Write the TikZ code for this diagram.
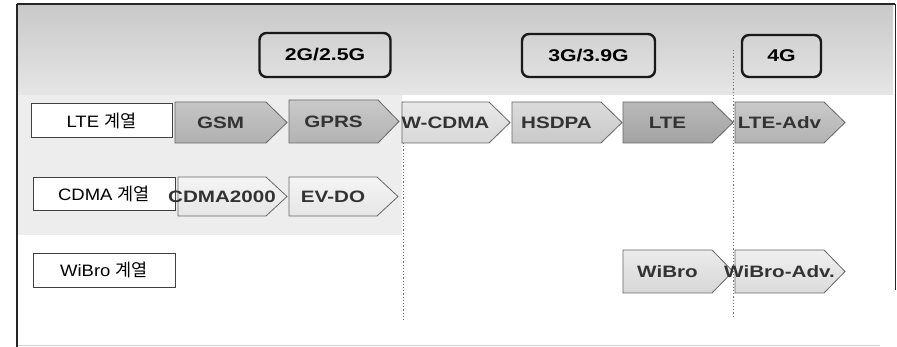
\documentclass[tikz,border=0pt]{standalone}
\usepackage{fontspec}
\setmainfont{Liberation Sans}
\newfontfamily\wide[FakeStretch=1.25]{Liberation Sans}
\newfontfamily\labfont[FakeStretch=1.12]{Liberation Sans}
\newfontfamily\kr{Noto Sans CJK KR}
\tikzset{
 lab/.style={draw=black!75, line width=0.8pt, fill=white, minimum width=141pt, minimum height=34pt, inner sep=0pt, font=\labfont\fontsize{16.5}{18}\selectfont},
 hdr/.style={draw=black!90, line width=2.4pt, rounded corners=7pt, inner sep=0pt, font=\wide\bfseries\fontsize{17}{19}\selectfont},
 atext/.style={inner sep=0pt, font=\wide\bfseries\fontsize{16.5}{18}\selectfont, text=black!80},
 sepline/.style={draw=black!55, line width=0.9pt, dash pattern=on 1.2pt off 2pt},
 chevron/.style={draw=black!60, line width=0.8pt}
}
% name, x1, y1, xtip, y2, top colour, bottom colour, text
\newcommand\chev[8]{%
 \path[chevron, top color=#6, bottom color=#7] (#2,#3) -- ({#4-21},#3) -- (#4,{(#3+#5)/2}) -- ({#4-21},#5) -- (#2,#5) -- cycle;
 \node[atext] (#1) at ({(#2+#4-21)/2},{(#3+#5)/2}) {#8};}
\newcommand\gye{{\kr\fontsize{17.5}{19}\selectfont 계열}}
\begin{document}
\begin{tikzpicture}[x=1pt,y=-1pt]
\useasboundingbox (0,0) rectangle (897,347);
% background
\fill[white] (0,0) rectangle (897,347);
\path[top color=gray!42, bottom color=gray!20] (18,6) rectangle (893,95);
\fill[gray!14] (18,95) rectangle (402,235);
% frame
\draw[black!85, line width=1.2pt] (17,4) -- (895,4);
\draw[black!85, line width=2.5pt] (17,4) -- (17,347);
\draw[black!85, line width=1pt] (895,4) -- (895,290);
\draw[gray!35, line width=0.8pt] (18,345) -- (880,345);
% headers
\node[hdr, minimum width=131pt, minimum height=44pt] (h2) at (325,55) {2G/2.5G};
\node[hdr, minimum width=133pt, minimum height=43pt] (h3) at (588.5,55.5) {3G/3.9G};
\node[hdr, minimum width=79pt, minimum height=42pt] (h4) at (781.5,56) {4G};
% separators
\coordinate (s1a) at (403,143);
\coordinate (s1b) at (403,320);
\coordinate (s2a) at (733,50);
\coordinate (s2b) at (733,318);
\draw[sepline] (s1a) -- (s1b);
\draw[sepline] (s2a) -- (s2b);
% row labels
\node[lab] (lte) at (101.5,120.5) {LTE \gye};
\node[lab, minimum width=142pt, minimum height=33pt] (cdma) at (104,193.5) {CDMA \gye};
\node[lab, minimum width=142pt] (wibro) at (104,270) {WiBro \gye};
% LTE row
\chev{gsm}{175}{102}{287}{143}{gray!45}{gray!62}{GSM}
\chev{gprs}{289}{100}{399}{143}{gray!42}{gray!60}{GPRS}
\chev{wcdma}{402}{102}{510}{143}{gray!18}{gray!30}{W-CDMA}
\chev{hsdpa}{512}{102}{622}{143}{gray!28}{gray!42}{HSDPA}
\chev{ltea}{623}{102}{733}{143}{gray!55}{gray!72}{LTE}
\chev{lteadv}{735}{102}{845}{143}{gray!42}{gray!60}{LTE-Adv}
% CDMA row
\chev{c2000}{178}{177}{287}{216}{gray!8}{gray!20}{CDMA2000}
\chev{evdo}{289}{177}{398}{216}{gray!8}{gray!20}{EV-DO}
% WiBro row
\chev{wib}{623}{250}{733}{293}{gray!15}{gray!32}{WiBro}
\chev{wibadv}{735}{250}{845}{293}{gray!12}{gray!28}{WiBro-Adv.}
\end{tikzpicture}
\end{document}
